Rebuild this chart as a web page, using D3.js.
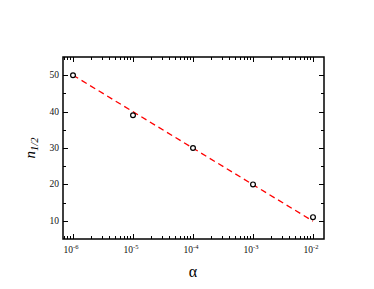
<!DOCTYPE html>
<html lang="en">
<head>
<meta charset="utf-8">
<title>n1/2 vs alpha</title>
<script src="https://d3js.org/d3.v7.min.js"></script>
<style>
  body { margin: 0; background: #fff; }
  text { font-family: "Liberation Serif", "DejaVu Serif", serif; }
</style>
</head>
<body>
<script>
// data
var alphas = [1e-6, 1e-5, 1e-4, 1e-3, 1e-2];
var nHalf = [50, 39, 30, 20, 11];
var fitX = [1e-6, 1e-2];
var fitY = [50, 9.9];
var xTickExps = [-6, -5, -4, -3, -2];
var yTicks = [10, 20, 30, 40, 50];

var w = 374, h = 289;
var plotL = 63, plotR = 324, plotT = 57, plotB = 239;

var svg = d3.select("body").append("svg")
  .attr("width", w).attr("height", h);

var x = d3.scaleLog()
  .domain([Math.pow(10, -6 - 10 / 60), Math.pow(10, -2 + 11 / 60)])
  .range([plotL, plotR]);
var y = d3.scaleLinear().domain([5, 55]).range([plotB, plotT]);

// minor x ticks (2..9 each decade)
var minorX = [];
for (var e = -7; e <= -2; e++) {
  for (var m = 2; m <= 9; m++) {
    var v = m * Math.pow(10, e);
    if (v > x.domain()[0] && v < x.domain()[1]) minorX.push(v);
  }
}
var minorY = [15, 25, 35, 45];

var g = svg.append("g").attr("stroke", "#000").attr("stroke-width", 1);

// ticks on all four sides, pointing inward
function hTicks(vals, len) {
  vals.forEach(function(v) {
    var px = Math.round(x(v)) + 0.5;
    g.append("line").attr("x1", px).attr("x2", px).attr("y1", plotB).attr("y2", plotB - len);
    g.append("line").attr("x1", px).attr("x2", px).attr("y1", plotT).attr("y2", plotT + len);
  });
}
function vTicks(vals, len) {
  vals.forEach(function(v) {
    var py = Math.round(y(v)) + 0.5;
    g.append("line").attr("x1", plotL).attr("x2", plotL + len).attr("y1", py).attr("y2", py);
    g.append("line").attr("x1", plotR).attr("x2", plotR - len).attr("y1", py).attr("y2", py);
  });
}
hTicks(minorX, 3);
hTicks(xTickExps.map(function(p) { return Math.pow(10, p); }), 5);
vTicks(minorY, 3);
vTicks(yTicks, 5);

// frame
svg.append("rect")
  .attr("x", plotL).attr("y", plotT)
  .attr("width", plotR - plotL).attr("height", plotB - plotT)
  .attr("fill", "none").attr("stroke", "#000").attr("stroke-width", 1.5);

// y tick labels
svg.selectAll("text.ylab").data(yTicks).enter().append("text")
  .attr("class", "ylab")
  .attr("x", plotL - 4)
  .attr("y", function(d) { return y(d) + 3; })
  .attr("text-anchor", "end")
  .attr("font-size", "9.5px")
  .attr("fill", "#111")
  .text(function(d) { return d; });

// x tick labels 10^p
var xl = svg.selectAll("text.xlab").data(xTickExps).enter().append("text")
  .attr("class", "xlab")
  .attr("x", function(d) { return x(Math.pow(10, d)) - 2; })
  .attr("y", 253)
  .attr("text-anchor", "middle")
  .attr("font-size", "9.5px")
  .attr("fill", "#111");
xl.append("tspan").text("10");
xl.append("tspan").attr("font-size", "6.5px").attr("dy", -4)
  .text(function(d) { return "-" + Math.abs(d); });

// axis titles
svg.append("text")
  .attr("x", 193).attr("y", 277)
  .attr("text-anchor", "middle")
  .attr("font-size", "16px")
  .text("α");

var yt = svg.append("text")
  .attr("transform", "translate(35,148) rotate(-90)")
  .attr("text-anchor", "middle")
  .attr("font-size", "15px");
yt.append("tspan").attr("font-style", "italic").text("n");
yt.append("tspan").attr("font-size", "10.5px").attr("font-style", "italic").attr("dy", 3).text("1/2");

// fit line
var line = d3.line()
  .x(function(d) { return x(d[0]); })
  .y(function(d) { return y(d[1]); });
svg.append("path")
  .datum(d3.zip(fitX, fitY))
  .attr("d", line)
  .attr("fill", "none")
  .attr("stroke", "#ff0000")
  .attr("stroke-width", 1.3)
  .attr("stroke-dasharray", "6,4");

// data points
svg.selectAll("circle").data(d3.zip(alphas, nHalf)).enter().append("circle")
  .attr("cx", function(d) { return x(d[0]); })
  .attr("cy", function(d) { return y(d[1]); })
  .attr("r", 2.4)
  .attr("fill", "#fff")
  .attr("stroke", "#000")
  .attr("stroke-width", 1.2);
</script>
</body>
</html>
